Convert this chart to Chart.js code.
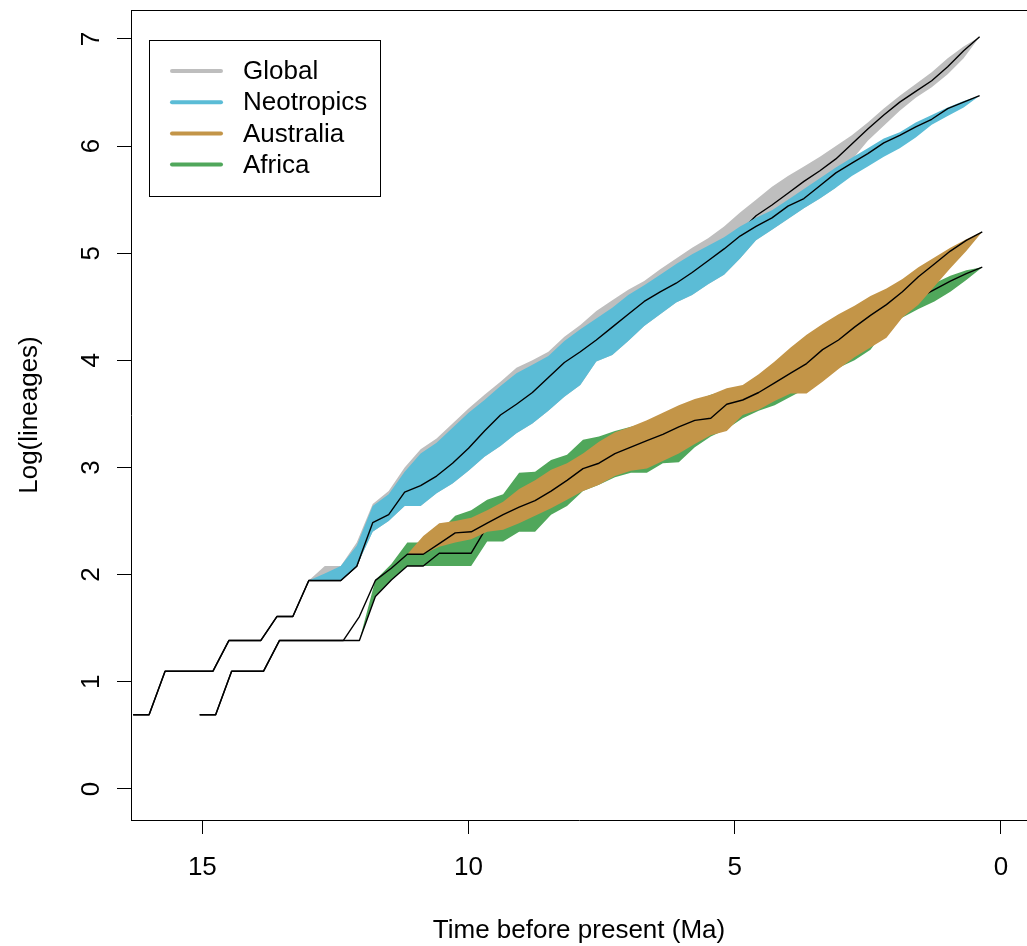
<!DOCTYPE html>
<html>
<head>
<meta charset="utf-8">
<script src="https://cdn.jsdelivr.net/npm/chart.js@4.4.1/dist/chart.umd.min.js"></script>
<style>
  html, body { margin: 0; padding: 0; background: #fff; }
  canvas { display: block; }
</style>
</head>
<body>
<canvas id="ltt" width="1027" height="946"></canvas>
<script>
(() => {
    'use strict'

    // time slices (Ma) for global + neotropics, and for the two southern regions
    const timesNorth = [16.3, 16.0, 15.7, 15.4, 15.1, 14.8, 14.5, 14.2, 13.9, 13.6,
        13.3, 13.0, 12.7, 12.4, 12.1, 11.8, 11.5, 11.2, 10.9, 10.6,
        10.3, 10.0, 9.7, 9.4, 9.1, 8.8, 8.5, 8.2, 7.9, 7.6,
        7.3, 7.0, 6.7, 6.4, 6.1, 5.8, 5.5, 5.2, 4.9, 4.6,
        4.3, 4.0, 3.7, 3.4, 3.1, 2.8, 2.5, 2.2, 1.9, 1.6,
        1.3, 1.0, 0.7, 0.4]
    const timesSouth = [15.05, 14.75, 14.45, 14.15, 13.85, 13.55, 13.25, 12.95, 12.65, 12.35,
        12.05, 11.75, 11.45, 11.15, 10.85, 10.55, 10.25, 9.95, 9.65, 9.35,
        9.05, 8.75, 8.45, 8.15, 7.85, 7.55, 7.25, 6.95, 6.65, 6.35,
        6.05, 5.75, 5.45, 5.15, 4.85, 4.55, 4.25, 3.95, 3.65, 3.35,
        3.05, 2.75, 2.45, 2.15, 1.85, 1.55, 1.25, 0.95, 0.65, 0.35]

    // log(lineages): mean curve and envelope per region
    const globalMean = [0.693, 0.693, 1.099, 1.099, 1.099, 1.099, 1.386, 1.386, 1.386, 1.609,
        1.609, 1.946, 1.946, 1.946, 2.079, 2.485, 2.56, 2.77, 2.83, 2.92,
        3.04, 3.18, 3.34, 3.49, 3.59, 3.70, 3.84, 3.98, 4.08, 4.19,
        4.31, 4.43, 4.55, 4.64, 4.72, 4.86, 4.97, 5.08, 5.20, 5.35,
        5.45, 5.56, 5.67, 5.77, 5.88, 6.02, 6.16, 6.29, 6.41, 6.51,
        6.61, 6.74, 6.89, 7.02]
    const globalLow = [null, null, null, null, null, null, null, null, null, null,
        null, 1.946, 1.946, 1.946, 2.08, 2.40, 2.50, 2.64, 2.64, 2.76,
        2.85, 2.97, 3.10, 3.20, 3.32, 3.41, 3.53, 3.66, 3.77, 3.99,
        4.05, 4.18, 4.32, 4.43, 4.54, 4.61, 4.71, 4.80, 4.95, 5.12,
        5.22, 5.32, 5.42, 5.51, 5.61, 5.87, 6.05, 6.19, 6.33, 6.45,
        6.55, 6.67, 6.82, 7.02]
    const globalHigh = [null, null, null, null, null, null, null, null, null, null,
        null, 1.946, 2.08, 2.08, 2.30, 2.66, 2.78, 3.00, 3.17, 3.27,
        3.41, 3.55, 3.68, 3.80, 3.93, 4.00, 4.08, 4.22, 4.33, 4.46,
        4.56, 4.66, 4.74, 4.85, 4.95, 5.05, 5.14, 5.25, 5.38, 5.50,
        5.62, 5.72, 5.81, 5.90, 6.00, 6.10, 6.22, 6.35, 6.47, 6.58,
        6.69, 6.82, 6.93, 7.02]

    const neoMean = [0.693, 0.693, 1.099, 1.099, 1.099, 1.099, 1.386, 1.386, 1.386, 1.609,
        1.609, 1.946, 1.946, 1.946, 2.079, 2.485, 2.56, 2.77, 2.83, 2.92,
        3.04, 3.18, 3.34, 3.49, 3.59, 3.70, 3.84, 3.98, 4.08, 4.19,
        4.31, 4.43, 4.55, 4.64, 4.72, 4.82, 4.93, 5.04, 5.16, 5.25,
        5.33, 5.44, 5.51, 5.63, 5.75, 5.84, 5.93, 6.03, 6.10, 6.18,
        6.25, 6.35, 6.41, 6.47]
    const neoLow = [null, null, null, null, null, null, null, null, null, null,
        null, 1.946, 1.946, 1.946, 2.08, 2.40, 2.50, 2.64, 2.64, 2.76,
        2.85, 2.97, 3.10, 3.20, 3.32, 3.41, 3.53, 3.66, 3.77, 3.99,
        4.05, 4.18, 4.32, 4.43, 4.54, 4.61, 4.71, 4.80, 4.95, 5.12,
        5.22, 5.32, 5.42, 5.51, 5.61, 5.72, 5.81, 5.90, 5.98, 6.08,
        6.20, 6.28, 6.36, 6.47]
    const neoHigh = [null, null, null, null, null, null, null, null, null, null,
        null, 1.946, 2.01, 2.08, 2.27, 2.64, 2.75, 2.96, 3.13, 3.23,
        3.37, 3.51, 3.63, 3.76, 3.88, 3.96, 4.04, 4.18, 4.29, 4.39,
        4.49, 4.61, 4.70, 4.80, 4.90, 4.99, 5.07, 5.15, 5.25, 5.33,
        5.40, 5.50, 5.60, 5.70, 5.80, 5.89, 5.98, 6.07, 6.13, 6.22,
        6.29, 6.36, 6.42, 6.47]

    const ausMean = [0.693, 0.693, 1.099, 1.099, 1.099, 1.386, 1.386, 1.386, 1.386, 1.386,
        1.609, 1.946, 2.06, 2.19, 2.19, 2.29, 2.39, 2.40, 2.48, 2.56,
        2.63, 2.69, 2.78, 2.88, 2.99, 3.04, 3.13, 3.19, 3.25, 3.31,
        3.38, 3.44, 3.46, 3.59, 3.63, 3.70, 3.79, 3.88, 3.97, 4.10,
        4.19, 4.31, 4.42, 4.52, 4.64, 4.78, 4.90, 5.02, 5.12, 5.20]
    const ausLow = [null, null, null, null, null, null, null, null, null, null,
        null, null, null, 2.19, 2.19, 2.26, 2.30, 2.33, 2.40, 2.42,
        2.48, 2.55, 2.62, 2.70, 2.78, 2.84, 2.92, 2.97, 2.99, 3.06,
        3.13, 3.22, 3.30, 3.34, 3.49, 3.54, 3.62, 3.69, 3.69, 3.80,
        3.92, 4.03, 4.12, 4.21, 4.40, 4.52, 4.69, 4.86, 5.02, 5.20]
    const ausHigh = [null, null, null, null, null, null, null, null, null, null,
        null, null, null, 2.19, 2.36, 2.48, 2.50, 2.53, 2.60, 2.68,
        2.80, 2.88, 2.98, 3.04, 3.13, 3.24, 3.33, 3.38, 3.44, 3.51,
        3.58, 3.64, 3.68, 3.74, 3.77, 3.87, 3.99, 4.12, 4.24, 4.34,
        4.43, 4.51, 4.60, 4.67, 4.76, 4.87, 4.96, 5.05, 5.13, 5.20]

    const afrMean = [0.693, 0.693, 1.099, 1.099, 1.099, 1.386, 1.386, 1.386, 1.386, 1.386,
        1.386, 1.796, 1.95, 2.08, 2.08, 2.20, 2.20, 2.20, 2.45, 2.52,
        2.62, 2.68, 2.78, 2.86, 2.98, 3.05, 3.12, 3.17, 3.22, 3.28,
        3.33, 3.40, 3.48, 3.55, 3.62, 3.70, 3.78, 3.86, 3.94, 4.03,
        4.12, 4.22, 4.32, 4.42, 4.50, 4.58, 4.66, 4.74, 4.81, 4.87]
    const afrLow = [null, null, null, null, null, null, null, null, null, null,
        1.386, 1.80, 1.95, 2.08, 2.08, 2.08, 2.08, 2.08, 2.31, 2.31,
        2.40, 2.40, 2.56, 2.64, 2.78, 2.84, 2.91, 2.95, 2.95, 3.04,
        3.05, 3.19, 3.29, 3.36, 3.46, 3.53, 3.58, 3.66, 3.74, 3.82,
        3.93, 4.00, 4.10, 4.30, 4.40, 4.48, 4.55, 4.64, 4.75, 4.87]
    const afrHigh = [null, null, null, null, null, null, null, null, null, null,
        1.386, 1.95, 2.10, 2.30, 2.30, 2.40, 2.55, 2.60, 2.70, 2.75,
        2.95, 2.96, 3.07, 3.12, 3.26, 3.29, 3.34, 3.38, 3.42, 3.48,
        3.55, 3.62, 3.68, 3.72, 3.76, 3.84, 3.95, 4.03, 4.12, 4.22,
        4.31, 4.40, 4.48, 4.55, 4.62, 4.68, 4.72, 4.79, 4.84, 4.87]

    const regions = ['Global', 'Neotropics', 'Australia', 'Africa']
    const colors = ['#BEBEBE', '#5BBCD6', '#C39548', '#50A75B']
    const yTicks = [0, 1, 2, 3, 4, 5, 6, 7]

    const FONT = '"Liberation Sans", Arial, Helvetica, sans-serif'
    Chart.defaults.font.family = FONT
    Chart.defaults.font.size = 26
    Chart.defaults.color = '#000'

    function pts(times, values) {
        var out = []
        for (var i = 0; i < times.length; i++) {
            if (values[i] !== null) out.push({ x: times[i], y: values[i] })
        }
        return out
    }

    var datasets = []
    // each region: envelope (lower edge + filled upper edge), then its mean curve
    function addRegion(times, mean, low, high, color, order) {
        datasets.push({ data: pts(times, low), borderWidth: 0, pointRadius: 0, fill: false, order: order + 2 })
        datasets.push({ data: pts(times, high), borderWidth: 0, pointRadius: 0,
            backgroundColor: color, fill: '-1', order: order + 1 })
        datasets.push({ data: pts(times, mean), borderColor: '#000', borderWidth: 1.4,
            borderJoinStyle: 'round', pointRadius: 0, fill: false, order: order })
    }
    addRegion(timesNorth, globalMean, globalLow, globalHigh, colors[0], 40)
    addRegion(timesNorth, neoMean, neoLow, neoHigh, colors[1], 30)
    addRegion(timesSouth, afrMean, afrLow, afrHigh, colors[3], 20)
    addRegion(timesSouth, ausMean, ausLow, ausHigh, colors[2], 10)

    // box top edge, rotated y tick labels and the legend
    const extras = {
        id: 'extras',
        afterDraw(chart) {
            const c = chart.ctx
            const area = chart.chartArea
            const ys = chart.scales.y
            c.save()
            c.strokeStyle = '#000'
            c.lineWidth = 1
            c.beginPath()
            c.moveTo(area.left, Math.round(area.top) + 0.5)
            c.lineTo(area.right, Math.round(area.top) + 0.5)
            c.stroke()

            c.fillStyle = '#000'
            c.font = '26px ' + FONT
            c.textAlign = 'center'
            c.textBaseline = 'middle'
            yTicks.forEach(v => {
                c.save()
                c.translate(92, ys.getPixelForValue(v))
                c.rotate(-Math.PI / 2)
                c.fillText(String(v), 0, 0)
                c.restore()
            })

            c.fillStyle = '#fff'
            c.fillRect(149.5, 40.5, 231, 156)
            c.strokeRect(149.5, 40.5, 231, 156)
            c.textAlign = 'left'
            regions.forEach((name, k) => {
                const y = 71 + k * 31.2
                c.strokeStyle = colors[k]
                c.lineWidth = 4
                c.lineCap = 'round'
                c.beginPath()
                c.moveTo(172, y)
                c.lineTo(221, y)
                c.stroke()
                c.fillStyle = '#000'
                c.fillText(name, 243, y + 1)
            })
            c.restore()
        }
    }

    const ctx = document.getElementById('ltt')
    new Chart(ctx, {
        type: 'line',
        data: { datasets: datasets },
        plugins: [extras],
        options: {
            responsive: false,
            animation: false,
            devicePixelRatio: 1,
            layout: { padding: { top: 10, left: 0, right: 0, bottom: 0 } },
            elements: { line: { tension: 0 } },
            plugins: {
                legend: { display: false },
                tooltip: { enabled: false },
                filler: { propagate: false }
            },
            scales: {
                x: {
                    type: 'linear',
                    reverse: true,
                    min: -0.49,
                    max: 16.34,
                    afterFit: s => { s.height = 126 },
                    border: { display: true, color: '#000', width: 1 },
                    grid: { display: true, drawOnChartArea: false, drawTicks: true, tickLength: 14, color: '#000', lineWidth: 1 },
                    ticks: { stepSize: 5, includeBounds: false, padding: 18, maxRotation: 0, color: '#000' },
                    title: { display: true, text: 'Time before present (Ma)', padding: { top: 0, bottom: 0 }, color: '#000' }
                },
                y: {
                    type: 'linear',
                    min: -0.29,
                    max: 7.27,
                    afterFit: s => { s.width = 131 },
                    border: { display: true, color: '#000', width: 1 },
                    grid: { display: true, drawOnChartArea: false, drawTicks: true, tickLength: 14, color: '#000', lineWidth: 1 },
                    ticks: { stepSize: 1, includeBounds: false, display: false },
                    title: { display: true, text: 'Log(lineages)', padding: { top: 14, bottom: 0 }, color: '#000' }
                }
            }
        }
    })
})()
</script>
</body>
</html>
